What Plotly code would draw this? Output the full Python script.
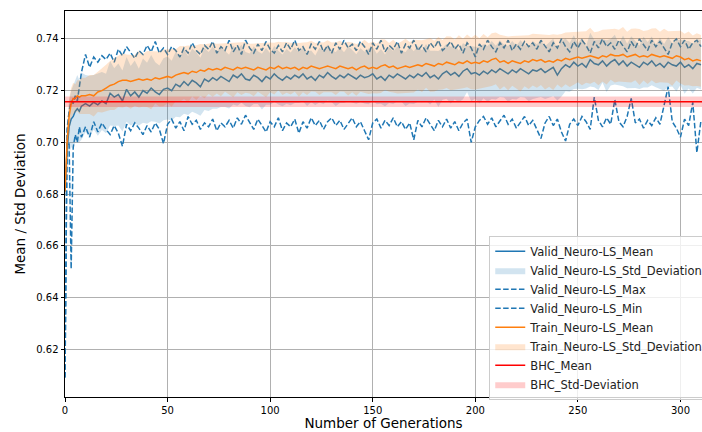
import plotly.graph_objects as go

# ---------------- data ----------------
generations = [0, 1, 2, 3, 4, 5, 6, 7, 8] + list(range(10, 311, 2))

valid_mean = [0.681, 0.697, 0.706, 0.709, 0.710, 0.712, 0.713, 0.712, 0.714,
    0.7150, 0.7140, 0.7155, 0.7145, 0.7160, 0.7150, 0.7190, 0.7175, 0.7185, 0.7160,
    0.7205, 0.7180, 0.7195, 0.7175, 0.7200, 0.7190, 0.7210, 0.7195, 0.7185, 0.7205,
    0.7210, 0.7200, 0.7225, 0.7215, 0.7235, 0.7220, 0.7240, 0.7230, 0.7215, 0.7245,
    0.7235, 0.7250, 0.7240, 0.7255, 0.7245, 0.7235, 0.7260, 0.7250, 0.7265, 0.7245,
    0.7240, 0.7260, 0.7250, 0.7235, 0.7255, 0.7245, 0.7265, 0.7250, 0.7240, 0.7255,
    0.7245, 0.7260, 0.7250, 0.7265, 0.7245, 0.7255, 0.7240, 0.7260, 0.7250, 0.7270,
    0.7255, 0.7245, 0.7260, 0.7250, 0.7265, 0.7255, 0.7245, 0.7260, 0.7250, 0.7255,
    0.7265, 0.7245, 0.7255, 0.7240, 0.7260, 0.7250, 0.7265, 0.7255, 0.7245, 0.7260,
    0.7250, 0.7265, 0.7255, 0.7270, 0.7250, 0.7260, 0.7245, 0.7265, 0.7275, 0.7260,
    0.7270, 0.7255, 0.7275, 0.7285, 0.7265, 0.7270, 0.7260, 0.7275, 0.7265, 0.7280,
    0.7270, 0.7285, 0.7275, 0.7265, 0.7280, 0.7270, 0.7285, 0.7275, 0.7265, 0.7280,
    0.7275, 0.7285, 0.7270, 0.7280, 0.7290, 0.7260, 0.7285, 0.7300, 0.7290, 0.7310,
    0.7295, 0.7305, 0.7290, 0.7320, 0.7305, 0.7300, 0.7315, 0.7295, 0.7310, 0.7320,
    0.7300, 0.7315, 0.7295, 0.7310, 0.7300, 0.7290, 0.7310, 0.7300, 0.7315, 0.7295,
    0.7305, 0.7290, 0.7310, 0.7300, 0.7295, 0.7310, 0.7290, 0.7300, 0.7285, 0.7305,
    0.7300]

valid_std = [0.003, 0.008, 0.010, 0.011, 0.012, 0.012, 0.013, 0.012, 0.013,
    0.0110, 0.0118, 0.0105, 0.0120, 0.0112, 0.0115, 0.0125, 0.0112, 0.0120, 0.0118,
    0.0125, 0.0115, 0.0122, 0.0110, 0.0124, 0.0118, 0.0128, 0.0115, 0.0112, 0.0120,
    0.0122, 0.0116, 0.0126, 0.0118, 0.0124, 0.0114, 0.0122, 0.0118, 0.0112, 0.0120,
    0.0114, 0.0120, 0.0110, 0.0118, 0.0108, 0.0104, 0.0114, 0.0108, 0.0112, 0.0104,
    0.0104, 0.0112, 0.0102, 0.0108, 0.0110, 0.0100, 0.0108, 0.0104, 0.0100, 0.0106,
    0.0102, 0.0108, 0.0098, 0.0106, 0.0104, 0.0100, 0.0096, 0.0106, 0.0102, 0.0108,
    0.0100, 0.0104, 0.0108, 0.0098, 0.0106, 0.0102, 0.0096, 0.0104, 0.0100, 0.0108,
    0.0104, 0.0098, 0.0106, 0.0100, 0.0108, 0.0102, 0.0106, 0.0098, 0.0104, 0.0110,
    0.0102, 0.0108, 0.0100, 0.0110, 0.0104, 0.0094, 0.0108, 0.0100, 0.0106, 0.0110,
    0.0104, 0.0100, 0.0108, 0.0090, 0.0106, 0.0100, 0.0110, 0.0104, 0.0108, 0.0112,
    0.0104, 0.0110, 0.0102, 0.0108, 0.0112, 0.0104, 0.0110, 0.0102, 0.0106, 0.0112,
    0.0104, 0.0110, 0.0102, 0.0108, 0.0112, 0.0098, 0.0108, 0.0102, 0.0094, 0.0104,
    0.0088, 0.0100, 0.0082, 0.0104, 0.0092, 0.0098, 0.0084, 0.0100, 0.0090, 0.0096,
    0.0080, 0.0098, 0.0086, 0.0100, 0.0090, 0.0084, 0.0098, 0.0088, 0.0094, 0.0082,
    0.0100, 0.0090, 0.0096, 0.0084, 0.0098, 0.0088, 0.0102, 0.0092, 0.0096, 0.0094,
    0.0096]

valid_max = [0.609, 0.705, 0.712, 0.716, 0.715, 0.718, 0.716, 0.721, 0.727,
    0.7340, 0.7290, 0.7330, 0.7310, 0.7335, 0.7320, 0.7345, 0.7310, 0.7360, 0.7335,
    0.7370, 0.7345, 0.7325, 0.7355, 0.7340, 0.7375, 0.7350, 0.7390, 0.7345, 0.7365,
    0.7340, 0.7370, 0.7355, 0.7330, 0.7365, 0.7345, 0.7385, 0.7355, 0.7340, 0.7375,
    0.7360, 0.7390, 0.7345, 0.7370, 0.7355, 0.7395, 0.7350, 0.7375, 0.7340, 0.7395,
    0.7365, 0.7345, 0.7380, 0.7355, 0.7390, 0.7360, 0.7345, 0.7375, 0.7350, 0.7385,
    0.7360, 0.7395, 0.7355, 0.7370, 0.7340, 0.7380, 0.7360, 0.7390, 0.7350, 0.7375,
    0.7345, 0.7385, 0.7360, 0.7395, 0.7365, 0.7380, 0.7355, 0.7390, 0.7370, 0.7340,
    0.7385, 0.7360, 0.7395, 0.7350, 0.7375, 0.7360, 0.7390, 0.7345, 0.7380, 0.7365,
    0.7395, 0.7355, 0.7375, 0.7350, 0.7385, 0.7365, 0.7395, 0.7355, 0.7370, 0.7390,
    0.7360, 0.7380, 0.7345, 0.7385, 0.7365, 0.7330, 0.7380, 0.7360, 0.7395, 0.7370,
    0.7350, 0.7385, 0.7365, 0.7395, 0.7355, 0.7380, 0.7360, 0.7390, 0.7370, 0.7385,
    0.7360, 0.7395, 0.7370, 0.7350, 0.7385, 0.7365, 0.7400, 0.7370, 0.7350, 0.7390,
    0.7365, 0.7395, 0.7375, 0.7345, 0.7390, 0.7365, 0.7400, 0.7370, 0.7385, 0.7360,
    0.7395, 0.7370, 0.7350, 0.7390, 0.7365, 0.7400, 0.7375, 0.7355, 0.7395, 0.7370,
    0.7390, 0.7365, 0.7340, 0.7385, 0.7400, 0.7370, 0.7395, 0.7360, 0.7385, 0.7395,
    0.7370]

valid_min = [0.609, 0.699, 0.700, 0.651, 0.698, 0.703, 0.700, 0.706, 0.702,
    0.7060, 0.7020, 0.7080, 0.7040, 0.7075, 0.7050, 0.7030, 0.7065, 0.7035, 0.6985,
    0.7070, 0.7045, 0.7075, 0.7055, 0.7030, 0.7065, 0.7040, 0.7075, 0.7050, 0.6995,
    0.7070, 0.7090, 0.7055, 0.7080, 0.7045, 0.7100, 0.7070, 0.7085, 0.7050, 0.7075,
    0.7060, 0.7090, 0.7045, 0.7075, 0.7060, 0.7085, 0.7055, 0.7095, 0.7070, 0.7105,
    0.7080, 0.7050, 0.7090, 0.7065, 0.7040, 0.7080, 0.7060, 0.7095, 0.7045, 0.7075,
    0.7060, 0.7090, 0.7035, 0.7080, 0.7055, 0.7095, 0.7065, 0.7085, 0.7050, 0.7080,
    0.7095, 0.7065, 0.7085, 0.7050, 0.7075, 0.7095, 0.7060, 0.7080, 0.7045, 0.7010,
    0.7075, 0.7090, 0.7055, 0.7085, 0.7065, 0.7095, 0.7060, 0.7080, 0.7050, 0.7075,
    0.7010, 0.7085, 0.7060, 0.7095, 0.7070, 0.7045, 0.7085, 0.7060, 0.7090, 0.7055,
    0.7080, 0.7045, 0.7075, 0.7090, 0.7000, 0.7060, 0.7085, 0.7100, 0.7070, 0.7095,
    0.7060, 0.7085, 0.7105, 0.7070, 0.7090, 0.7055, 0.7080, 0.7100, 0.7065, 0.7085,
    0.7050, 0.7015, 0.7075, 0.7100, 0.7065, 0.7090, 0.7040, 0.7005, 0.7070, 0.7090,
    0.7065, 0.7100, 0.7080, 0.7050, 0.7175, 0.7085, 0.7060, 0.7095, 0.7070, 0.7165,
    0.7080, 0.7060, 0.7100, 0.7170, 0.7075, 0.7090, 0.7055, 0.7085, 0.7065, 0.7095,
    0.7070, 0.7150, 0.7215, 0.7080, 0.7055, 0.7020, 0.7090, 0.7065, 0.7155, 0.6960,
    0.7085]

train_mean = [0.681, 0.700, 0.710, 0.715, 0.717, 0.717, 0.718, 0.7175, 0.718,
    0.7180, 0.7185, 0.7180, 0.7195, 0.7200, 0.7210, 0.7220, 0.7225, 0.7235, 0.7240,
    0.7240, 0.7235, 0.7240, 0.7245, 0.7240, 0.7245, 0.7240, 0.7250, 0.7245, 0.7250,
    0.7255, 0.7250, 0.7260, 0.7265, 0.7270, 0.7265, 0.7275, 0.7270, 0.7280, 0.7275,
    0.7285, 0.7280, 0.7285, 0.7280, 0.7290, 0.7285, 0.7280, 0.7290, 0.7285, 0.7290,
    0.7285, 0.7280, 0.7290, 0.7285, 0.7280, 0.7290, 0.7285, 0.7295, 0.7285, 0.7290,
    0.7285, 0.7290, 0.7280, 0.7290, 0.7285, 0.7295, 0.7290, 0.7285, 0.7290, 0.7295,
    0.7290, 0.7285, 0.7295, 0.7290, 0.7285, 0.7290, 0.7280, 0.7290, 0.7295, 0.7285,
    0.7290, 0.7285, 0.7295, 0.7300, 0.7290, 0.7295, 0.7285, 0.7290, 0.7295, 0.7290,
    0.7295, 0.7300, 0.7295, 0.7305, 0.7300, 0.7295, 0.7305, 0.7300, 0.7310, 0.7305,
    0.7300, 0.7310, 0.7305, 0.7315, 0.7305, 0.7310, 0.7305, 0.7315, 0.7310, 0.7320,
    0.7325, 0.7310, 0.7315, 0.7305, 0.7315, 0.7310, 0.7305, 0.7315, 0.7310, 0.7320,
    0.7315, 0.7320, 0.7310, 0.7315, 0.7310, 0.7320, 0.7315, 0.7325, 0.7320, 0.7325,
    0.7330, 0.7325, 0.7330, 0.7335, 0.7330, 0.7325, 0.7335, 0.7330, 0.7340, 0.7335,
    0.7335, 0.7340, 0.7330, 0.7335, 0.7340, 0.7330, 0.7335, 0.7330, 0.7340, 0.7335,
    0.7330, 0.7335, 0.7330, 0.7325, 0.7335, 0.7330, 0.7320, 0.7325, 0.7315, 0.7320,
    0.7315]

train_std = [0.004, 0.006, 0.007, 0.006, 0.006, 0.0055, 0.006, 0.0065, 0.007,
    0.0070, 0.0075, 0.0080, 0.0078, 0.0085, 0.0090, 0.0095, 0.0100, 0.0098, 0.0105,
    0.0100, 0.0105, 0.0098, 0.0110, 0.0102, 0.0108, 0.0112, 0.0100, 0.0106, 0.0110,
    0.0104, 0.0112, 0.0100, 0.0108, 0.0102, 0.0110, 0.0098, 0.0106, 0.0100, 0.0104,
    0.0098, 0.0104, 0.0096, 0.0102, 0.0094, 0.0100, 0.0106, 0.0096, 0.0102, 0.0098,
    0.0096, 0.0102, 0.0094, 0.0100, 0.0106, 0.0096, 0.0100, 0.0094, 0.0102, 0.0098,
    0.0100, 0.0094, 0.0104, 0.0096, 0.0102, 0.0098, 0.0094, 0.0102, 0.0096, 0.0100,
    0.0096, 0.0102, 0.0098, 0.0094, 0.0104, 0.0096, 0.0100, 0.0094, 0.0102, 0.0098,
    0.0100, 0.0096, 0.0104, 0.0098, 0.0094, 0.0102, 0.0096, 0.0100, 0.0106, 0.0098,
    0.0102, 0.0096, 0.0100, 0.0094, 0.0104, 0.0098, 0.0102, 0.0096, 0.0100, 0.0104,
    0.0098, 0.0104, 0.0096, 0.0102, 0.0100, 0.0106, 0.0098, 0.0104, 0.0096, 0.0102,
    0.0100, 0.0106, 0.0098, 0.0104, 0.0096, 0.0102, 0.0108, 0.0098, 0.0104, 0.0100,
    0.0104, 0.0098, 0.0106, 0.0100, 0.0108, 0.0096, 0.0104, 0.0100, 0.0106, 0.0102,
    0.0098, 0.0104, 0.0100, 0.0108, 0.0096, 0.0104, 0.0100, 0.0106, 0.0098, 0.0104,
    0.0100, 0.0106, 0.0098, 0.0104, 0.0100, 0.0108, 0.0096, 0.0104, 0.0100, 0.0106,
    0.0098, 0.0104, 0.0100, 0.0106, 0.0096, 0.0102, 0.0100, 0.0104, 0.0098, 0.0102,
    0.0100]

bhc_mean = 0.7157
bhc_std = 0.0020

x_ticks = [0, 50, 100, 150, 200, 250, 300]
y_ticks = [0.62, 0.64, 0.66, 0.68, 0.70, 0.72, 0.74]

for arr in (valid_mean, valid_std, valid_max, valid_min, train_mean, train_std):
    assert len(arr) == len(generations), len(arr)

BLUE = "#1f77b4"
ORANGE = "#ff7f0e"
RED = "#ff0000"


def band(x, mean, std):
    up = [m + s for m, s in zip(mean, std)]
    lo = [m - s for m, s in zip(mean, std)]
    return list(x) + list(x)[::-1], up + lo[::-1]


fig = go.Figure()

fig.add_trace(go.Scatter(x=generations, y=valid_mean, mode="lines",
                         line=dict(color=BLUE, width=1.5), name="Valid_Neuro-LS_Mean"))
bx, by = band(generations, valid_mean, valid_std)
fig.add_trace(go.Scatter(x=bx, y=by, mode="lines", fill="toself",
                         fillcolor="rgba(31,119,180,0.2)", line=dict(width=0, color="rgba(0,0,0,0)"),
                         name="Valid_Neuro-LS_Std_Deviation"))
fig.add_trace(go.Scatter(x=generations, y=valid_max, mode="lines",
                         line=dict(color=BLUE, width=1.5, dash="5.5px,2.4px"), name="Valid_Neuro-LS_Max"))
fig.add_trace(go.Scatter(x=generations, y=valid_min, mode="lines",
                         line=dict(color=BLUE, width=1.5, dash="5.5px,2.4px"), name="Valid_Neuro-LS_Min"))
fig.add_trace(go.Scatter(x=generations, y=train_mean, mode="lines",
                         line=dict(color=ORANGE, width=1.5), name="Train_Neuro-LS_Mean"))
tx, ty = band(generations, train_mean, train_std)
fig.add_trace(go.Scatter(x=tx, y=ty, mode="lines", fill="toself",
                         fillcolor="rgba(255,127,14,0.2)", line=dict(width=0, color="rgba(0,0,0,0)"),
                         name="Train_Neuro-LS_Std_Deviation"))
x_full = [0, 311]
fig.add_trace(go.Scatter(x=x_full, y=[bhc_mean, bhc_mean], mode="lines",
                         line=dict(color=RED, width=1.5), name="BHC_Mean"))
fig.add_trace(go.Scatter(x=x_full + x_full[::-1],
                         y=[bhc_mean + bhc_std] * 2 + [bhc_mean - bhc_std] * 2,
                         mode="lines", fill="toself", fillcolor="rgba(255,0,0,0.2)",
                         line=dict(width=0, color="rgba(0,0,0,0)"), name="BHC_Std-Deviation"))

FONT = "DejaVu Sans"
fig.update_layout(
    width=702, height=432,
    margin=dict(l=65, r=0, t=11, b=35, autoexpand=False),
    plot_bgcolor="white", paper_bgcolor="white",
    font=dict(family=FONT, size=10, color="black"),
    showlegend=True,
    legend=dict(x=0.666, y=0.418, xanchor="left", yanchor="top",
                bgcolor="rgba(255,255,255,0.8)", bordercolor="#cccccc", borderwidth=1,
                font=dict(family=FONT, size=11.5, color="#222222"), tracegroupgap=0),
    xaxis=dict(range=[0, 310.5], tickvals=x_ticks, ticks="outside", ticklen=3.5,
               tickcolor="black", showline=True, linecolor="black", linewidth=1, mirror=True,
               showgrid=True, gridcolor="#b0b0b0", gridwidth=0.8, zeroline=False,
               title=dict(text="Number of Generations", font=dict(size=13.5), standoff=3)),
    yaxis=dict(range=[0.6015, 0.7508], tickvals=y_ticks, tickformat=".2f", ticks="outside",
               ticklen=3.5, tickcolor="black", showline=True, linecolor="black", linewidth=1,
               showgrid=True, gridcolor="#b0b0b0", gridwidth=0.8, zeroline=False,
               title=dict(text="Mean / Std Deviation", font=dict(size=13.5), standoff=7)),
)

fig.write_html(
    "out.html",
    config={"displayModeBar": False},
    post_script="document.body.style.margin='0';document.body.style.overflow='hidden';",
)
